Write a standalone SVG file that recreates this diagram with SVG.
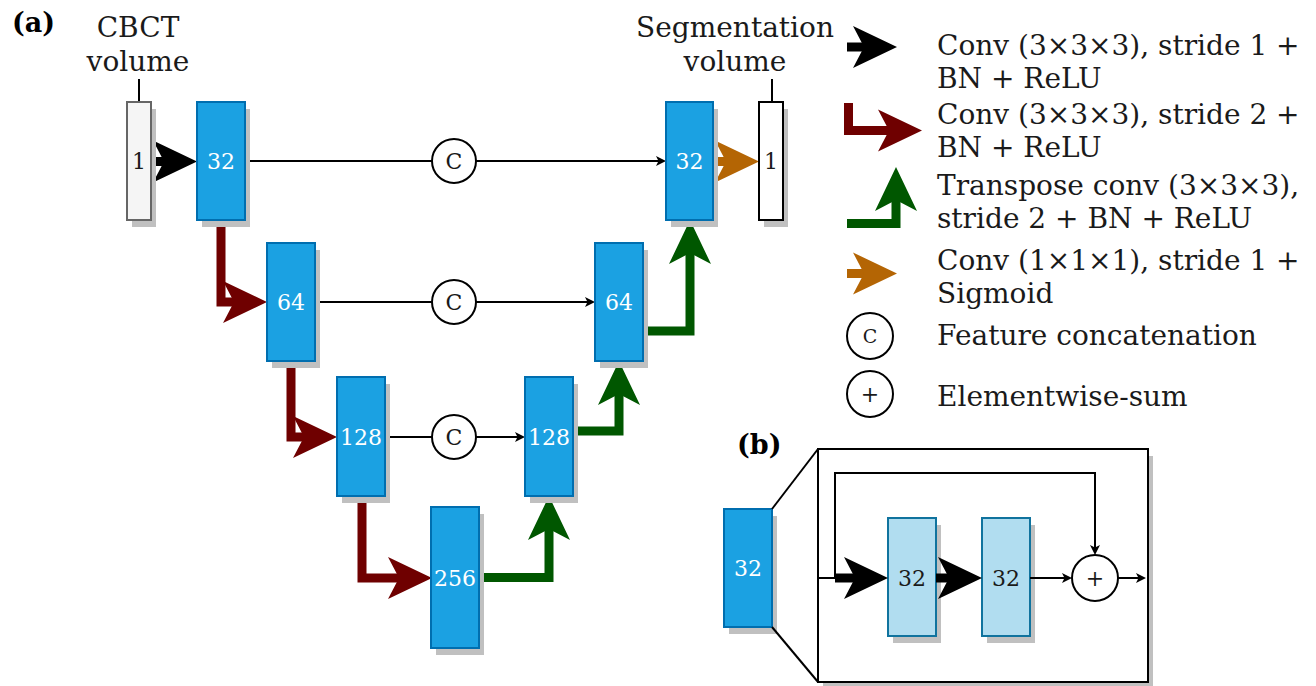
<svg xmlns="http://www.w3.org/2000/svg" xmlns:xlink="http://www.w3.org/1999/xlink" width="1316" height="686" viewBox="0 0 1316 686">
<style>
text{font-family:"DejaVu Serif","Liberation Serif",serif;}
.lbl{font-size:28px;fill:#1a1a1a;}
.num{font-size:22px;text-anchor:middle;dominant-baseline:central;}
.w{fill:#ffffff;}
.d{fill:#1a1a1a;}
.blue{fill:#1ba1e2;stroke:#006eaf;stroke-width:2;}
.lblue{fill:#b1ddf0;stroke:#10739e;stroke-width:2;}
.sh{fill:#c0c0c0;}
.thin{fill:none;stroke:#000;stroke-width:2;}
.circ{fill:#fff;stroke:#000;stroke-width:2;}
.ctext{font-size:22px;text-anchor:middle;dominant-baseline:central;fill:#1a1a1a;}
.red{fill:none;stroke:#6f0000;stroke-width:9;}
.green{fill:none;stroke:#005700;stroke-width:9;}
.black{fill:none;stroke:#000;stroke-width:9;}
.orange{fill:none;stroke:#b46504;stroke-width:9;}
.bold{font-size:27px;font-weight:bold;fill:#000;}
</style>
<defs>
<path id="head" d="M0,0 L-44,-21 L-33,0 L-44,21 Z"/>
<path id="small" d="M0,0 L-10,-5 L-7.5,0 L-10,5 Z"/>
</defs>

<text class="bold" x="12" y="32">(a)</text>
<text class="bold" x="737" y="454">(b)</text>

<g id="connectors">
  <!-- stems -->
  <line class="thin" x1="139" y1="102" x2="139" y2="79"/>
  <line class="thin" x1="772" y1="102" x2="772" y2="79"/>
  <!-- skip connections -->
  <line class="thin" x1="245" y1="161" x2="432" y2="161"/>
  <line class="thin" x1="476" y1="161" x2="660" y2="161"/>
  <use href="#small" transform="translate(666,161)"/>
  <line class="thin" x1="315" y1="302" x2="432" y2="302"/>
  <line class="thin" x1="476" y1="302" x2="589" y2="302"/>
  <use href="#small" transform="translate(595,302)"/>
  <line class="thin" x1="386" y1="437" x2="432" y2="437"/>
  <line class="thin" x1="476" y1="437" x2="519" y2="437"/>
  <use href="#small" transform="translate(525,437)"/>
  <!-- black conv -->
  <line class="black" x1="151" y1="161.5" x2="170" y2="161.5"/>
  <use href="#head" transform="translate(197,161.5)"/>
  <!-- red downsampling -->
  <path class="red" d="M221,220 V302 H240"/>
  <use href="#head" fill="#6f0000" transform="translate(267,302)"/>
  <path class="red" d="M291,361 V437 H310"/>
  <use href="#head" fill="#6f0000" transform="translate(337,437)"/>
  <path class="red" d="M362,496 V578 H405"/>
  <use href="#head" fill="#6f0000" transform="translate(432,578)"/>
  <!-- green upsampling -->
  <path class="green" d="M479,577.5 H549 V520"/>
  <use href="#head" fill="#005700" transform="translate(549,496) rotate(-90)"/>
  <path class="green" d="M573,431 H619 V385"/>
  <use href="#head" fill="#005700" transform="translate(619,361) rotate(-90)"/>
  <path class="green" d="M643,331 H690 V245"/>
  <use href="#head" fill="#005700" transform="translate(690,220) rotate(-90)"/>
  <!-- orange output -->
  <line class="orange" x1="713" y1="161.5" x2="730" y2="161.5"/>
  <use href="#head" fill="#b46504" transform="translate(759,161.5)"/>
</g>

<g id="concat1"><circle class="circ" cx="454" cy="161" r="22"/><text class="ctext" x="454" y="161">C</text></g>
<g id="concat2"><circle class="circ" cx="454" cy="302" r="22"/><text class="ctext" x="454" y="302">C</text></g>
<g id="concat3"><circle class="circ" cx="454" cy="437" r="22"/><text class="ctext" x="454" y="437">C</text></g>

<g id="input">
  <rect class="sh" x="132" y="109" width="24" height="118"/>
  <rect x="127" y="102" width="24" height="118" fill="#f5f5f5" stroke="#666" stroke-width="2"/>
  <text class="num d" x="139" y="161">1</text>
  <text class="lbl" x="138" y="37" text-anchor="middle">CBCT</text>
  <text class="lbl" x="138" y="71" text-anchor="middle">volume</text>
</g>
<g id="enc32">
  <rect class="sh" x="202" y="109" width="48" height="118"/>
  <rect class="blue" x="197" y="102" width="48" height="118"/>
  <text class="num w" x="221" y="161">32</text>
</g>
<g id="enc64">
  <rect class="sh" x="272" y="250" width="48" height="118"/>
  <rect class="blue" x="267" y="243" width="48" height="118"/>
  <text class="num w" x="291" y="302">64</text>
</g>
<g id="enc128">
  <rect class="sh" x="342" y="384" width="48" height="119"/>
  <rect class="blue" x="337" y="377" width="48" height="119"/>
  <text class="num w" x="361" y="437">128</text>
</g>
<g id="bottleneck">
  <rect class="sh" x="436" y="514" width="48" height="141"/>
  <rect class="blue" x="431" y="507" width="48" height="141"/>
  <text class="num w" x="455" y="578">256</text>
</g>
<g id="dec128">
  <rect class="sh" x="530" y="384" width="48" height="119"/>
  <rect class="blue" x="525" y="377" width="48" height="119"/>
  <text class="num w" x="549" y="437">128</text>
</g>
<g id="dec64">
  <rect class="sh" x="600" y="250" width="48" height="118"/>
  <rect class="blue" x="595" y="243" width="48" height="118"/>
  <text class="num w" x="619" y="302">64</text>
</g>
<g id="dec32">
  <rect class="sh" x="671" y="109" width="47" height="118"/>
  <rect class="blue" x="666" y="102" width="47" height="118"/>
  <text class="num w" x="689.5" y="161">32</text>
</g>
<g id="output">
  <rect class="sh" x="764" y="109" width="24" height="118"/>
  <rect x="759" y="102" width="24" height="118" fill="#fff" stroke="#000" stroke-width="2"/>
  <text class="num d" x="771" y="161">1</text>
  <text class="lbl" x="735" y="37" text-anchor="middle">Segmentation</text>
  <text class="lbl" x="735" y="71" text-anchor="middle">volume</text>
</g>

<g id="legend">
  <line class="black" x1="847" y1="47" x2="870" y2="47"/>
  <use href="#head" transform="translate(897,47)"/>
  <text class="lbl" x="937" y="55">Conv (3×3×3), stride 1 +</text>
  <text class="lbl" x="937" y="88">BN + ReLU</text>

  <path class="red" d="M848.5,103 V130.5 H895"/>
  <use href="#head" fill="#6f0000" transform="translate(922,130.5)"/>
  <text class="lbl" x="937" y="124">Conv (3×3×3), stride 2 +</text>
  <text class="lbl" x="937" y="157">BN + ReLU</text>

  <path class="green" d="M847,223.5 H896 V195"/>
  <use href="#head" fill="#005700" transform="translate(896,167) rotate(-90)"/>
  <text class="lbl" x="937" y="195">Transpose conv (3×3×3),</text>
  <text class="lbl" x="937" y="228">stride 2 + BN + ReLU</text>

  <line class="orange" x1="847" y1="273.5" x2="870" y2="273.5"/>
  <use href="#head" fill="#b46504" transform="translate(897,273.5)"/>
  <text class="lbl" x="937" y="270">Conv (1×1×1), stride 1 +</text>
  <text class="lbl" x="937" y="303">Sigmoid</text>

  <circle class="circ" cx="870" cy="336" r="23"/>
  <text class="ctext" x="870" y="336" style="font-size:19px">C</text>
  <text class="lbl" x="937" y="345">Feature concatenation</text>

  <circle class="circ" cx="870" cy="394" r="23"/>
  <text class="ctext" x="870" y="394">+</text>
  <text class="lbl" x="937" y="406">Elementwise-sum</text>
</g>

<g id="panelb">
  <g id="b_block">
    <rect class="sh" x="729" y="516" width="48" height="118"/>
    <rect class="blue" x="724" y="509" width="48" height="118"/>
    <text class="num w" x="748" y="568">32</text>
  </g>
  <g id="b_frame">
    <rect class="sh" x="823" y="456" width="330" height="233"/>
    <rect x="818" y="449" width="330" height="233" fill="#fff" stroke="#000" stroke-width="2"/>
  </g>
  <g id="b_conv1">
    <rect class="sh" x="893" y="525" width="48" height="118"/>
    <rect class="lblue" x="888" y="518" width="48" height="118"/>
    <text class="num d" x="912" y="578">32</text>
  </g>
  <g id="b_conv2">
    <rect class="sh" x="987" y="525" width="48" height="118"/>
    <rect class="lblue" x="982" y="518" width="48" height="118"/>
    <text class="num d" x="1006" y="578">32</text>
  </g>
  <g id="b_sum">
    <circle class="circ" cx="1095" cy="578" r="23"/>
    <text class="ctext" x="1095" y="578">+</text>
  </g>
  <g id="b_connectors">
    <line class="thin" x1="772" y1="509" x2="818" y2="449"/>
    <line class="thin" x1="772" y1="627" x2="818" y2="682"/>
    <line class="thin" x1="818" y1="578" x2="836" y2="578"/>
    <path class="thin" d="M835,578 V473 H1095 V549"/>
    <use href="#small" transform="translate(1095,555) rotate(90)"/>
    <line class="black" x1="835" y1="578" x2="860" y2="578"/>
    <use href="#head" transform="translate(888,578)"/>
    <line class="black" x1="936" y1="578" x2="955" y2="578"/>
    <use href="#head" transform="translate(982,578)"/>
    <line class="thin" x1="1030" y1="578" x2="1066" y2="578"/>
    <use href="#small" transform="translate(1072,578)"/>
    <line class="thin" x1="1118" y1="578" x2="1140" y2="578"/>
    <use href="#small" transform="translate(1146,578)"/>
  </g>
</g>
</svg>
